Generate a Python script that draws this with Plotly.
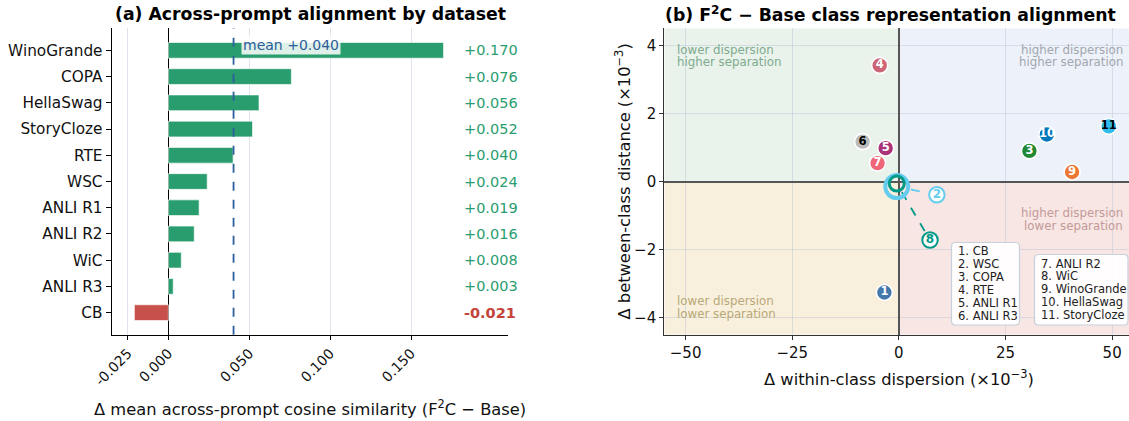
import plotly.graph_objects as go

W, H = 1129, 421
FONT = "DejaVu Sans"

# ---------------- Panel (a) data ----------------
datasets = ["WinoGrande", "COPA", "HellaSwag", "StoryCloze", "RTE", "WSC",
            "ANLI R1", "ANLI R2", "WiC", "ANLI R3", "CB"]
delta_cos = [0.170, 0.076, 0.056, 0.052, 0.040, 0.024, 0.019, 0.016, 0.008, 0.003, -0.021]
xa_ticks = [-0.025, 0.0, 0.05, 0.10, 0.15]
xa_ticktext = ["-0.025", "0.000", "0.050", "0.100", "0.150"]

# ---------------- Panel (b) data ----------------
pt_ids = [1, 2, 3, 4, 5, 6, 7, 8, 9, 10, 11]
pt_names = ["CB", "WSC", "COPA", "RTE", "ANLI R1", "ANLI R3", "ANLI R2", "WiC",
            "WinoGrande", "HellaSwag", "StoryCloze"]
d_within = [-3.4, -0.5, 30.6, -4.5, -3.1, -8.5, -5.0, -0.5, 40.6, 34.7, 49.2]
d_between = [-3.26, -0.15, 0.90, 3.41, 0.98, 1.17, 0.54, -0.06, 0.28, 1.38, 1.62]
pt_colors = ["#4477AA", "#66CCEE", "#228833", "#CC6677", "#AA3377", "#BBBBBB",
             "#EE6677", "#009988", "#EE7733", "#0077BB", "#33BBEE"]
pt_textcolors = ["white", "white", "white", "white", "white", "black",
                 "white", "white", "white", "white", "black"]
# label positions for points that overlap at the origin (layout, not data)
offset_labels = {2: (8.9, -0.39), 8: (7.3, -1.72)}
ring_sizes = {2: (23, 4.0), 8: (15, 3.0)}
xb_ticks = [-50, -25, 0, 25, 50]
yb_ticks = [-4, -2, 0, 2, 4]
quad_texts = [
    # (lines, anchor x px, first line y px, xanchor, color)
    (["lower dispersion", "higher separation"], 674.5, 49.5, "left", "#80ab8e"),
    (["higher dispersion", "higher separation"], 1124.5, 49.5, "right", "#a2a6ad"),
    (["higher dispersion", "lower separation"], 1124.5, 213.0, "right", "#c49a98"),
    (["lower dispersion", "lower separation"], 674.5, 300.5, "left", "#b8a878"),
]

# ---------------- layout geometry ----------------
LX = [111.7 / W, 508.3 / W]
RX = [664.3 / W, 1.0]
YD = [1 - 334.7 / H, 1 - 28.3 / H]
XA_RANGE = [-0.035, 0.21]
XB_RANGE = [-55, 53.95]
YB_RANGE = [-4.5, 4.5]

GREEN = "#2a9d6f"
RED = "#c8504a"


def px(x):
    return x / W


def py(y):
    return 1 - y / H


fig = go.Figure()

# ---- Panel (a) bars ----
fig.add_trace(go.Bar(
    x=delta_cos, y=datasets, orientation="h",
    marker=dict(color=[GREEN if v >= 0 else RED for v in delta_cos],
                line=dict(color="rgba(255,255,255,0.8)", width=0.8)),
    width=0.6, xaxis="x", yaxis="y", showlegend=False, hoverinfo="skip"))

mean_val = sum(delta_cos) / len(delta_cos)

annotations = []
shapes = []

for name, v in zip(datasets, delta_cos):
    annotations.append(dict(
        x=0.1825, y=name, xref="x", yref="y", xanchor="left", yanchor="middle",
        xshift=-2, text=f"{v:+.3f}", showarrow=False,
        font=dict(family=FONT, size=14.5, color=GREEN if v >= 0 else "#c4443b",
                  weight="bold" if v < 0 else "normal")))

shapes.append(dict(type="line", xref="x", yref="y domain", x0=mean_val, x1=mean_val,
                   y0=0, y1=1, line=dict(color="#2c5f9e", width=1.8, dash="dash"),
                   layer="above"))
annotations.append(dict(
    x=mean_val, y=datasets[0], xref="x", yref="y", xanchor="left", yanchor="middle",
    xshift=7, yshift=5, text=f"mean {mean_val:+.3f}", showarrow=False,
    bgcolor="rgba(255,255,255,0.85)", borderpad=1,
    font=dict(family=FONT, size=14, color="#2b5d9b")))

# ---- Panel (b) quadrant backgrounds ----
quad = [
    (XB_RANGE[0], 0, 0, YB_RANGE[1], "#e9f2eb"),
    (0, 0, XB_RANGE[1] + 2, YB_RANGE[1], "#edf2fa"),
    (XB_RANGE[0], YB_RANGE[0], 0, 0, "#f8f0dc"),
    (0, YB_RANGE[0], XB_RANGE[1] + 2, 0, "#f7e6e4"),
]
for x0, y0, x1, y1, c in quad:
    shapes.append(dict(type="rect", xref="x2", yref="y2", x0=x0, y0=y0, x1=x1, y1=y1,
                       fillcolor=c, line=dict(width=0), layer="below"))

for lines, ax, ay, xa, col in quad_texts:
    for j, ln in enumerate(lines):
        annotations.append(dict(
            x=px(ax), y=py(ay + 13 * j), xref="paper", yref="paper",
            xanchor=xa, yanchor="middle", text=ln, showarrow=False,
            font=dict(family=FONT, size=11.8, color=col)))

# pixel scales for leader lines
ppx = (RX[1] - RX[0]) * W / (XB_RANGE[1] - XB_RANGE[0])
ppy = (YD[1] - YD[0]) * H / (YB_RANGE[1] - YB_RANGE[0])

# ---- Panel (b) rings + leader lines for overlapping points ----
for i in [2, 8]:
    k = pt_ids.index(i)
    x, y = d_within[k], d_between[k]
    lx, ly = offset_labels[i]
    sz, lw = ring_sizes[i]
    ddx, ddy = (lx - x) * ppx, (ly - y) * ppy
    dist = (ddx ** 2 + ddy ** 2) ** 0.5
    r0 = sz / 2 + lw / 2 + 1
    r1 = 10
    sx, sy = x + ddx / dist * r0 / ppx, y + ddy / dist * r0 / ppy
    ex, ey = lx - ddx / dist * r1 / ppx, ly - ddy / dist * r1 / ppy
    fig.add_trace(go.Scatter(
        x=[sx, ex], y=[sy, ey], mode="lines", xaxis="x2", yaxis="y2",
        line=dict(color=pt_colors[k], width=1.8, dash="dash"),
        showlegend=False, hoverinfo="skip"))

for i in [2, 8]:
    k = pt_ids.index(i)
    sz, lw = ring_sizes[i]
    fig.add_trace(go.Scatter(
        x=[d_within[k]], y=[d_between[k]], mode="markers", xaxis="x2", yaxis="y2",
        marker=dict(size=sz, color="rgba(0,0,0,0)", line=dict(color=pt_colors[k], width=lw)),
        showlegend=False, hoverinfo="skip"))

# offset labels
for i in [2, 8]:
    k = pt_ids.index(i)
    lx, ly = offset_labels[i]
    fig.add_trace(go.Scatter(
        x=[lx], y=[ly], mode="markers+text", xaxis="x2", yaxis="y2",
        text=[str(i)], textposition="middle center",
        marker=dict(size=15.5, color="white", line=dict(color=pt_colors[k], width=2)),
        textfont=dict(family=FONT, size=12, color=pt_colors[k], weight="bold"),
        showlegend=False, hoverinfo="skip"))

# regular points
reg = [k for k, i in enumerate(pt_ids) if i not in offset_labels]
fig.add_trace(go.Scatter(
    x=[d_within[k] for k in reg], y=[d_between[k] for k in reg],
    mode="markers+text", xaxis="x2", yaxis="y2",
    text=[str(pt_ids[k]) for k in reg], textposition="middle center",
    marker=dict(size=16, color=[pt_colors[k] for k in reg],
                line=dict(color="white", width=1.6)),
    textfont=dict(family=FONT, size=11.5, color=[pt_textcolors[k] for k in reg],
                  weight="bold"),
    showlegend=False, hoverinfo="skip"))


# key boxes (rounded rectangles + one text line each)
def rounded_box(x0, y0, x1, y1, r=4):
    X0, X1 = px(x0), px(x1)
    Y0, Y1 = py(y1), py(y0)  # bottom, top in paper
    rx, ry = r / W, r / H
    return (f"M {X0+rx},{Y0} L {X1-rx},{Y0} Q {X1},{Y0} {X1},{Y0+ry} "
            f"L {X1},{Y1-ry} Q {X1},{Y1} {X1-rx},{Y1} L {X0+rx},{Y1} "
            f"Q {X0},{Y1} {X0},{Y1-ry} L {X0},{Y0+ry} Q {X0},{Y0} {X0+rx},{Y0} Z")


key_groups = [
    (pt_ids[:6], pt_names[:6], (951.5, 242.5, 1019.5, 325.0), 955.5, 251.0),
    (pt_ids[6:], pt_names[6:], (1034.5, 254.5, 1128.0, 325.0), 1038.5, 263.5),
]
for ids, names, box, tx, ty in key_groups:
    shapes.append(dict(type="path", xref="paper", yref="paper", path=rounded_box(*box),
                       fillcolor="rgba(255,255,255,0.92)",
                       line=dict(color="#c8d0dc", width=1.2), layer="above"))
    for j, (i, n) in enumerate(zip(ids, names)):
        annotations.append(dict(
            x=px(tx), y=py(ty + 12.9 * j), xref="paper", yref="paper",
            xanchor="left", yanchor="middle", text=f"{i}. {n}", showarrow=False,
            font=dict(family=FONT, size=11.5, color="#222222")))

# titles
annotations += [
    dict(x=(LX[0] + LX[1]) / 2, y=py(14), xref="paper", yref="paper",
         xanchor="center", yanchor="middle", showarrow=False,
         text="(a) Across-prompt alignment by dataset",
         font=dict(family=FONT, size=17.3, color="black", weight="bold")),
    dict(x=px(891), y=py(14), xref="paper", yref="paper",
         xanchor="center", yanchor="middle", showarrow=False,
         text="(b) F<sup>2</sup>C − Base class representation alignment",
         font=dict(family=FONT, size=17.3, color="black", weight="bold")),
    dict(x=(LX[0] + LX[1]) / 2, y=py(408), xref="paper", yref="paper",
         xanchor="center", yanchor="middle", showarrow=False,
         text="Δ mean across-prompt cosine similarity (F<sup>2</sup>C − Base)",
         font=dict(family=FONT, size=16.3, color="#111111")),
    dict(x=px(899), y=py(378), xref="paper", yref="paper",
         xanchor="center", yanchor="middle", showarrow=False,
         text="Δ within-class dispersion (×10<sup>−3</sup>)",
         font=dict(family=FONT, size=16.3, color="#111111")),
    dict(x=px(623), y=py(181.5), xref="paper", yref="paper",
         xanchor="center", yanchor="middle", showarrow=False, textangle=-90,
         text="Δ between-class distance (×10<sup>−3</sup>)",
         font=dict(family=FONT, size=16.3, color="#111111")),
]

GRID_A = "#dfe4ec"
GRID_B = "rgba(185,196,212,0.45)"

fig.update_layout(
    template="none",
    width=W, height=H, margin=dict(l=0, r=0, t=0, b=0, pad=0, autoexpand=False),
    paper_bgcolor="white", plot_bgcolor="white",
    font=dict(family=FONT, size=13, color="#111111"),
    bargap=0.4,
    xaxis=dict(domain=LX, anchor="y", range=XA_RANGE, tickvals=xa_ticks,
               ticktext=xa_ticktext, tickangle=-45, ticks="outside", ticklen=4,
               tickcolor="black", showgrid=True, gridcolor=GRID_A, gridwidth=1,
               zeroline=True, zerolinecolor="black", zerolinewidth=1.2,
               showline=True, linecolor="black", linewidth=1.2, automargin=False,
               tickfont=dict(family=FONT, size=14, color="#111111")),
    yaxis=dict(domain=YD, anchor="x", type="category", categoryorder="array",
               categoryarray=datasets, range=[len(datasets) - 0.16, -0.84],
               ticks="outside", ticklen=5, tickcolor="black", showgrid=False,
               showline=True, linecolor="black", linewidth=1.2, zeroline=False,
               automargin=False,
               tickfont=dict(family=FONT, size=15.3, color="#111111")),
    xaxis2=dict(domain=RX, anchor="y2", range=XB_RANGE, tickvals=xb_ticks,
                ticktext=[f"{t}".replace("-", "−") for t in xb_ticks],
                ticks="outside", ticklen=4, tickcolor="#333333",
                showgrid=True, gridcolor=GRID_B, gridwidth=1,
                zeroline=True, zerolinecolor="#555555", zerolinewidth=1.5,
                showline=True, linecolor="#333333", linewidth=1.2, automargin=False,
                tickfont=dict(family=FONT, size=15, color="#111111")),
    yaxis2=dict(domain=YD, anchor="x2", range=YB_RANGE, tickvals=yb_ticks,
                ticktext=[f"{t}".replace("-", "−") for t in yb_ticks],
                ticks="outside", ticklen=4, tickcolor="#333333",
                showgrid=True, gridcolor=GRID_B, gridwidth=1,
                zeroline=True, zerolinecolor="#555555", zerolinewidth=1.5,
                showline=True, linecolor="#333333", linewidth=1.2, automargin=False,
                tickfont=dict(family=FONT, size=15, color="#111111")),
    shapes=shapes, annotations=annotations,
)

fig.write_html("out.html", config={"displayModeBar": False},
               post_script="document.body.style.margin='0px';")
